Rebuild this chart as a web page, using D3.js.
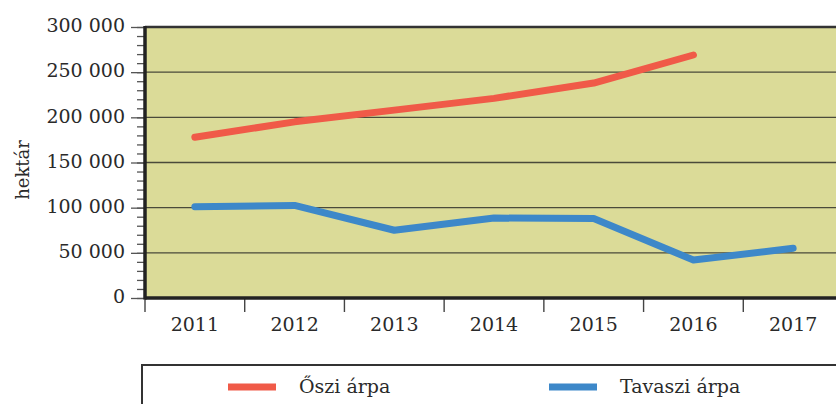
<!DOCTYPE html>
<html>
<head>
<meta charset="utf-8">
<script src="https://cdn.jsdelivr.net/npm/d3@7"></script>
<style>
  body { margin: 0; background: #fff; }
  svg { display: block; font-family: "DejaVu Serif", serif; }
</style>
</head>
<body>
<svg></svg>
<script>
// data
let years = ["2011", "2012", "2013", "2014", "2015", "2016", "2017"];
let osziArpa = [178000, 195000, 208000, 221000, 238000, 269000, null];
let tavasziArpa = [101000, 102500, 75000, 88500, 88000, 42000, 55000];
let yTicks = [0, 50000, 100000, 150000, 200000, 250000, 300000];
let seriesNames = ["Őszi árpa", "Tavaszi árpa"];
let seriesColors = ["#f05a48", "#3d88c9"];

let width = 836;
let height = 404;
let plotLeft = 145, plotRight = 843, plotTop = 27, plotBottom = 298;

let svg = d3.select("svg").attr("width", width).attr("height", height);

let xScale = d3.scaleBand().domain(years).range([plotLeft, plotRight]).padding(0);
let yScale = d3.scaleLinear().domain([0, 300000]).range([plotBottom, plotTop]);

let fmt = (v) => v === 0 ? "0" : d3.format(",")(v).replace(/,/g, " ");

// plot background
svg.append("rect")
   .attr("x", plotLeft).attr("y", plotTop)
   .attr("width", plotRight - plotLeft).attr("height", plotBottom - plotTop)
   .attr("fill", "#dbdb98");

// grid lines
svg.append("g")
   .selectAll("line")
   .data(yTicks.filter(d => d > 0))
   .enter()
   .append("line")
   .attr("x1", plotLeft).attr("x2", plotRight)
   .attr("y1", d => yScale(d)).attr("y2", d => yScale(d))
   .attr("stroke", d => d === 300000 ? "#333" : "#4a4a3a")
   .attr("stroke-width", d => d === 300000 ? 2.5 : 1.4);

// y axis: minor ticks then major ticks
let yMinor = d3.axisLeft(yScale).tickValues(d3.range(0, 300001, 10000)).tickSize(8).tickFormat("");
let gMinor = svg.append("g").attr("transform", `translate(${plotLeft},0)`).call(yMinor);
gMinor.select(".domain").remove();
gMinor.selectAll("line").attr("stroke", "#555").attr("stroke-width", 1.3);

let yAxis = d3.axisLeft(yScale).tickValues(yTicks).tickSize(14).tickPadding(6).tickFormat(fmt);
let gY = svg.append("g").attr("id", "y-axis").attr("transform", `translate(${plotLeft},0)`).call(yAxis);
gY.select(".domain").remove();
gY.selectAll("line").attr("stroke", "#555").attr("stroke-width", 1.3);
gY.selectAll("text")
  .attr("font-family", "DejaVu Serif, serif")
  .attr("font-size", 19)
  .attr("fill", "#2a2a2a")
  .attr("dy", "0.25em");

// x axis
let xAxis = d3.axisBottom(xScale).tickSize(0).tickPadding(20);
let gX = svg.append("g").attr("id", "x-axis").attr("transform", `translate(0,${plotBottom})`).call(xAxis);
gX.select(".domain").remove();
gX.selectAll("text")
  .attr("font-family", "DejaVu Serif, serif")
  .attr("font-size", 19)
  .attr("fill", "#2a2a2a");

// x ticks at band boundaries
svg.append("g")
   .selectAll("line")
   .data(years)
   .enter()
   .append("line")
   .attr("x1", d => xScale(d)).attr("x2", d => xScale(d))
   .attr("y1", plotBottom).attr("y2", plotBottom + 14)
   .attr("stroke", "#444").attr("stroke-width", 1.4);

// axis lines
svg.append("line")
   .attr("x1", plotLeft).attr("x2", plotRight)
   .attr("y1", plotBottom).attr("y2", plotBottom)
   .attr("stroke", "#222").attr("stroke-width", 3.5);
svg.append("line")
   .attr("x1", plotLeft).attr("x2", plotLeft)
   .attr("y1", plotTop - 1).attr("y2", plotBottom + 1.5)
   .attr("stroke", "#222").attr("stroke-width", 3.5);

// lines
let line = d3.line()
  .defined(d => d[1] !== null)
  .x(d => xScale(d[0]) + xScale.bandwidth() / 2)
  .y(d => yScale(d[1]));

[osziArpa, tavasziArpa].forEach((vals, i) => {
  svg.append("path")
     .datum(years.map((y, j) => [y, vals[j]]))
     .attr("d", line)
     .attr("fill", "none")
     .attr("stroke", seriesColors[i])
     .attr("stroke-width", 7)
     .attr("stroke-linecap", "round")
     .attr("stroke-linejoin", "round");
});

// y title
svg.append("text")
   .attr("transform", "translate(29,170) rotate(-90)")
   .attr("text-anchor", "middle")
   .attr("font-size", 18)
   .attr("fill", "#2a2a2a")
   .text("hektár");

// legend
svg.append("rect")
   .attr("x", 142).attr("y", 365)
   .attr("width", 720).attr("height", 80)
   .attr("fill", "none")
   .attr("stroke", "#333").attr("stroke-width", 2);

let legendX = [228, 549];
seriesNames.forEach((name, i) => {
  svg.append("line")
     .attr("x1", legendX[i]).attr("x2", legendX[i] + 48)
     .attr("y1", 387).attr("y2", 387)
     .attr("stroke", seriesColors[i]).attr("stroke-width", 7);
  svg.append("text")
     .attr("x", legendX[i] + 71).attr("y", 393)
     .attr("font-size", 19)
     .attr("fill", "#2a2a2a")
     .text(name);
});
</script>
</body>
</html>
